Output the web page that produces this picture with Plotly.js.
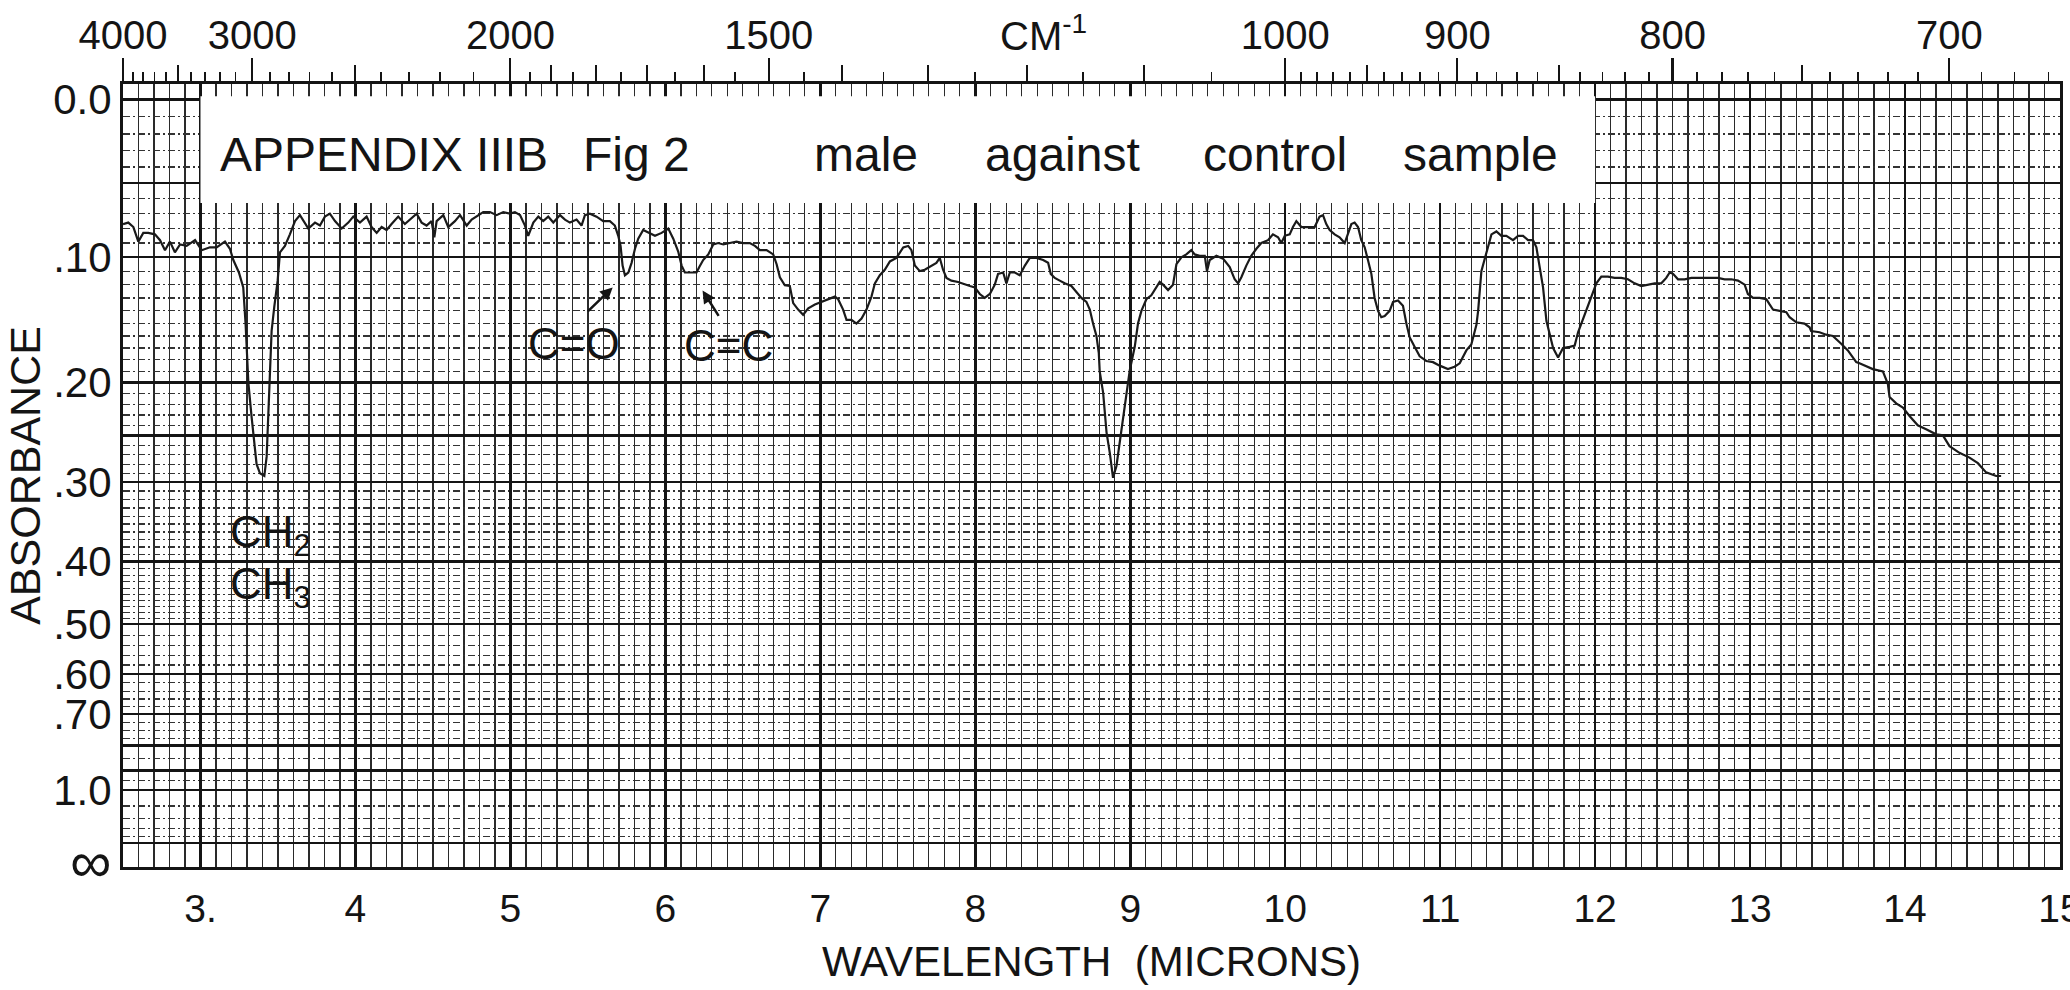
<!DOCTYPE html>
<html>
<head>
<meta charset="utf-8">
<script src="https://cdn.plot.ly/plotly-3.0.1.min.js"></script>
<style>
html,body{margin:0;padding:0;background:#fff;}
#chart{width:2070px;height:990px;}
</style>
</head>
<body>
<div id="chart"></div>
<script>
// ---- data: wavelength (microns) and absorbance ----
const wavelength = [
2.50,2.534,2.567,2.599,2.631,2.663,2.706,2.739,2.771,2.803,2.835,2.868,2.911,2.965,3.008,3.061,3.104,3.158,3.190,3.212,
3.248,3.276,3.291,3.309,3.330,3.362,3.384,3.412,3.427,3.442,3.459,3.476,3.498,3.513,3.545,3.577,3.610,3.642,3.674,3.696,
3.739,3.771,3.803,3.835,3.868,3.911,3.954,3.986,4.029,4.072,4.104,4.137,4.169,4.201,4.233,4.276,4.319,4.352,4.395,4.427,
4.459,4.491,4.509,4.524,4.567,4.599,4.642,4.675,4.718,4.750,4.782,4.825,4.868,4.911,4.954,4.997,5.029,5.062,5.094,5.115,
5.148,5.180,5.212,5.244,5.277,5.320,5.352,5.384,5.427,5.459,5.481,5.513,5.556,5.599,5.642,5.674,5.696,5.711,5.724,5.739,
5.761,5.782,5.804,5.825,5.857,5.900,5.933,5.976,6.019,6.051,6.083,6.105,6.126,6.169,6.201,6.219,6.244,6.277,6.309,6.341,
6.374,6.416,6.459,6.502,6.545,6.578,6.610,6.653,6.696,6.718,6.739,6.771,6.803,6.825,6.857,6.889,6.922,6.965,7.008,7.051,
7.094,7.115,7.147,7.169,7.201,7.233,7.266,7.298,7.330,7.352,7.384,7.416,7.449,7.491,7.535,7.567,7.588,7.610,7.642,7.674,
7.717,7.749,7.771,7.792,7.814,7.846,7.889,7.932,7.965,7.997,8.029,8.061,8.094,8.126,8.147,8.180,8.201,8.223,8.255,8.287,
8.320,8.352,8.395,8.438,8.470,8.487,8.513,8.545,8.577,8.620,8.653,8.685,8.717,8.739,8.760,8.782,8.797,8.803,8.825,8.847,
8.868,8.889,8.911,8.932,8.954,8.975,8.997,9.029,9.050,9.072,9.104,9.136,9.169,9.190,9.212,9.244,9.276,9.298,9.330,9.362,
9.394,9.416,9.448,9.481,9.495,9.513,9.556,9.599,9.642,9.674,9.696,9.717,9.749,9.781,9.814,9.846,9.889,9.921,9.954,9.975,
9.997,10.029,10.050,10.072,10.104,10.147,10.190,10.222,10.244,10.265,10.287,10.319,10.351,10.384,10.405,10.427,10.448,10.470,10.491,10.513,
10.534,10.556,10.577,10.599,10.620,10.642,10.674,10.696,10.728,10.760,10.782,10.803,10.835,10.868,10.911,10.954,10.997,11.050,11.093,11.126,
11.169,11.201,11.234,11.245,11.266,11.288,11.309,11.331,11.363,11.395,11.427,11.470,11.503,11.535,11.567,11.599,11.621,11.642,11.664,11.686,
11.707,11.729,11.761,11.793,11.836,11.868,11.890,11.922,11.954,11.986,12.008,12.040,12.083,12.126,12.169,12.212,12.255,12.298,12.341,12.384,
12.427,12.459,12.481,12.503,12.535,12.578,12.621,12.664,12.707,12.750,12.793,12.836,12.879,12.922,12.965,12.986,13.019,13.062,13.105,13.126,
13.148,13.191,13.234,13.255,13.298,13.351,13.384,13.394,13.448,13.491,13.534,13.588,13.631,13.685,13.706,13.792,13.857,13.889,13.900,13.943,
13.986,14.029,14.082,14.136,14.201,14.244,14.287,14.351,14.416,14.470,14.523,14.588,14.620
];
const absorbance = [
0.077,0.076,0.079,0.089,0.083,0.083,0.084,0.088,0.095,0.089,0.0965,0.091,0.092,0.088,0.095,0.093,0.093,0.089,0.094,0.102,
0.111,0.122,0.150,0.200,0.232,0.280,0.290,0.293,0.272,0.210,0.156,0.137,0.117,0.0965,0.092,0.084,0.075,0.071,0.076,0.080,
0.076,0.078,0.072,0.070,0.075,0.080,0.076,0.072,0.076,0.072,0.079,0.083,0.079,0.081,0.077,0.072,0.077,0.074,0.070,0.076,
0.078,0.075,0.086,0.075,0.071,0.079,0.075,0.071,0.078,0.074,0.072,0.069,0.069,0.071,0.069,0.070,0.069,0.071,0.078,0.085,
0.076,0.072,0.075,0.072,0.076,0.071,0.074,0.076,0.074,0.078,0.071,0.070,0.072,0.075,0.075,0.078,0.085,0.092,0.106,0.113,
0.111,0.104,0.094,0.087,0.081,0.083,0.085,0.083,0.080,0.087,0.096,0.106,0.111,0.111,0.111,0.107,0.102,0.098,0.091,0.090,
0.091,0.090,0.089,0.090,0.090,0.092,0.095,0.095,0.098,0.105,0.1145,0.1205,0.121,0.134,0.139,0.143,0.138,0.135,0.133,0.131,
0.129,0.131,0.139,0.147,0.147,0.150,0.146,0.139,0.129,0.119,0.113,0.109,0.103,0.1005,0.093,0.092,0.095,0.106,0.110,0.109,
0.106,0.104,0.1005,0.109,0.115,0.117,0.118,0.120,0.121,0.122,0.127,0.130,0.127,0.120,0.112,0.111,0.119,0.111,0.111,0.113,
0.106,0.1005,0.1005,0.102,0.104,0.112,0.115,0.117,0.119,0.121,0.126,0.130,0.133,0.139,0.150,0.160,0.174,0.190,0.209,0.247,
0.268,0.295,0.282,0.258,0.235,0.213,0.189,0.169,0.150,0.140,0.131,0.128,0.122,0.118,0.120,0.124,0.120,0.105,0.100,0.098,
0.095,0.098,0.099,0.099,0.110,0.102,0.099,0.101,0.107,0.116,0.119,0.1145,0.106,0.099,0.094,0.090,0.088,0.084,0.086,0.090,
0.085,0.084,0.079,0.075,0.079,0.079,0.079,0.072,0.071,0.077,0.081,0.084,0.086,0.090,0.084,0.077,0.076,0.079,0.088,0.093,
0.102,0.112,0.130,0.140,0.145,0.144,0.140,0.133,0.132,0.136,0.150,0.161,0.169,0.177,0.181,0.182,0.185,0.188,0.186,0.183,
0.172,0.167,0.151,0.140,0.110,0.1005,0.092,0.084,0.082,0.085,0.085,0.088,0.085,0.085,0.088,0.088,0.093,0.107,0.122,0.148,
0.158,0.170,0.178,0.170,0.169,0.168,0.157,0.146,0.136,0.125,0.119,0.114,0.114,0.115,0.115,0.116,0.119,0.121,0.120,0.119,
0.119,0.115,0.111,0.112,0.116,0.116,0.115,0.115,0.115,0.115,0.115,0.116,0.116,0.117,0.120,0.127,0.130,0.130,0.131,0.135,
0.139,0.140,0.141,0.145,0.149,0.150,0.153,0.156,0.157,0.159,0.160,0.1665,0.172,0.182,0.183,0.188,0.190,0.201,0.213,0.219,
0.223,0.231,0.240,0.244,0.249,0.250,0.261,0.268,0.273,0.279,0.289,0.293,0.293
];

// ---- tick labels ----
const micronTicks  = [3,4,5,6,7,8,9,10,11,12,13,14,15];
const micronLabels = ['3.','4','5','6','7','8','9','10','11','12','13','14','15'];
const absTicks  = [0, 0.10, 0.20, 0.30, 0.40, 0.50, 0.60, 0.70, 1.0, Infinity];
const absLabels = ['0.0','.10','.20','.30','.40','.50','.60','.70','1.0','<span style="font-size:58px">∞</span>'];
const wavenumberTicks  = [4000,3000,2000,1500,1000,900,800,700];
const wavenumberLabels = ['4000','3000','2000','1500','1000','900','800','700'];

// ---- chart-paper rulings (layout only) ----
const heavyAbs = [0.05, 0.25, 0.80, 0.90, 1.5];
const mediumWavenumbers = [3500,2500,1900,1800,1700,1600,1400,1300,1200,1100,950,850,750];

const toT = a => Math.pow(10, -a);          // absorbance -> transmittance (chart is linear in T)
const toMicron = w => 1e4 / w;

// minor vertical rulings every 0.1 micron
const minorX = [];
for (let i = 25; i <= 150; i++) { if (i % 10 !== 0) minorX.push(i / 10); }

// minor (dashed) horizontal rulings
const minorYabs = [];
for (let i = 1; i < 50; i++) { if (i % 10 !== 0 && i !== 5 && i !== 25) minorYabs.push(i / 100); }
for (let i = 52; i < 70; i += 2) { if (i !== 60) minorYabs.push(i / 100); }
[0.725, 0.75, 0.775, 0.85, 0.95, 1.1, 1.2, 1.3, 1.4].forEach(a => minorYabs.push(a));

// short ticks on wavenumber scale
const shortWavenumbers = [];
for (let w = 3900; w > 2000; w -= 100) { if (w !== 3000 && w !== 3500 && w !== 2500) shortWavenumbers.push(w); }
for (let w = 1950; w > 1000; w -= 100) { if (w !== 1500) shortWavenumbers.push(w); }
for (let w = 990; w >= 670; w -= 10) { if (w % 50 !== 0) shortWavenumbers.push(w); }

const INK = '#141414';
const SANS = '"Liberation Sans", Arial, sans-serif';

const spectrum = {
  x: wavelength,
  y: absorbance.map(toT),
  type: 'scatter', mode: 'lines',
  line: {color: '#1a1a1a', width: 2.2},
  xaxis: 'x', yaxis: 'y',
  showlegend: false, hoverinfo: 'skip'
};
const holder = ax => ({x: [null], y: [null], xaxis: ax[0], yaxis: ax[1], mode: 'lines', showlegend: false, hoverinfo: 'skip'});

const layout = {
  width: 2070, height: 990,
  margin: {l: 123, r: 10, t: 84, b: 123},
  paper_bgcolor: '#ffffff', plot_bgcolor: '#ffffff',
  showlegend: false,
  xaxis: {
    range: [2.5, 15], tickmode: 'array', tickvals: micronTicks, ticktext: micronLabels,
    ticks: '', ticklabelstandoff: 5, ticklabeloverflow: 'allow',
    tickfont: {family: SANS, size: 39, color: INK},
    showgrid: true, gridcolor: INK, gridwidth: 2.6,
    zeroline: false, showline: true, mirror: true, linecolor: INK, linewidth: 3,
    minor: {tickmode: 'array', tickvals: minorX, showgrid: true, gridcolor: '#2a2a2a', gridwidth: 1.3, ticks: ''},
    title: {text: 'WAVELENGTH  (MICRONS)', font: {family: SANS, size: 42, color: INK}, standoff: 18}
  },
  xaxis2: {
    overlaying: 'x', side: 'top', anchor: 'y', range: [2.5, 15],
    tickmode: 'array', tickvals: wavenumberTicks.map(toMicron), ticktext: wavenumberLabels,
    ticks: 'outside', ticklen: 12, tickwidth: 2.2, tickcolor: INK, ticklabelstandoff: 6,
    tickfont: {family: SANS, size: 40, color: INK},
    showgrid: false, zeroline: false, showline: false,
    minor: {tickmode: 'array', tickvals: shortWavenumbers.map(toMicron), ticks: 'outside', ticklen: 11, tickwidth: 1.8, tickcolor: INK, showgrid: false}
  },
  xaxis3: {
    overlaying: 'x', side: 'top', anchor: 'y', range: [2.5, 15],
    tickmode: 'array', tickvals: mediumWavenumbers.map(toMicron),
    ticks: 'outside', ticklen: 18, tickwidth: 2, tickcolor: INK,
    showticklabels: false, showgrid: false, zeroline: false, showline: false
  },
  xaxis4: {
    overlaying: 'x', side: 'top', anchor: 'y', range: [2.5, 15],
    tickmode: 'array', tickvals: wavenumberTicks.map(toMicron),
    ticks: 'outside', ticklen: 25, tickwidth: 2.2, tickcolor: INK,
    showticklabels: false, showgrid: false, zeroline: false, showline: false
  },
  yaxis: {
    range: [0, 1.02], tickmode: 'array', tickvals: absTicks.map(toT), ticktext: absLabels,
    ticks: '', ticklabelstandoff: 0,
    tickfont: {family: SANS, size: 42, color: INK},
    showgrid: true, gridcolor: INK, gridwidth: 2.4,
    zeroline: false, showline: true, mirror: true, linecolor: INK, linewidth: 3,
    minor: {tickmode: 'array', tickvals: minorYabs.map(toT), showgrid: true, gridcolor: '#333333', gridwidth: 1.2, griddash: '7px,3px,2px,3px', ticks: ''},
    title: {text: 'ABSORBANCE', font: {family: SANS, size: 43, color: INK}, standoff: 0}
  },
  yaxis2: {
    overlaying: 'y', anchor: 'x', side: 'left', range: [0, 1.02],
    tickmode: 'array', tickvals: heavyAbs.map(toT), showticklabels: false, ticks: '',
    showgrid: true, gridcolor: INK, gridwidth: 2.4, zeroline: false, showline: false
  },
  shapes: [
    {type: 'rect', xref: 'x', yref: 'y', x0: 3.0, x1: 12.0, y0: toT(0.063), y1: 1.004,
     fillcolor: '#ffffff', line: {width: 0}, layer: 'above'}
  ],
  annotations: [
    {text: 'CM<sup>-1</sup>', xref: 'x', yref: 'paper', x: 8.44, y: 1.065, showarrow: false,
     font: {family: SANS, size: 40, color: INK}, xanchor: 'center', yanchor: 'middle'},
    {text: 'APPENDIX IIIB', xref: 'x', yref: 'y', x: 3.11, y: 0.928, xanchor: 'left', yanchor: 'middle', showarrow: false, font: {family: SANS, size: 48, color: INK}},
    {text: 'Fig 2', xref: 'x', yref: 'y', x: 5.455, y: 0.928, xanchor: 'left', yanchor: 'middle', showarrow: false, font: {family: SANS, size: 48, color: INK}},
    {text: 'male', xref: 'x', yref: 'y', x: 6.945, y: 0.928, xanchor: 'left', yanchor: 'middle', showarrow: false, font: {family: SANS, size: 48, color: INK}},
    {text: 'against', xref: 'x', yref: 'y', x: 8.05, y: 0.928, xanchor: 'left', yanchor: 'middle', showarrow: false, font: {family: SANS, size: 48, color: INK}},
    {text: 'control', xref: 'x', yref: 'y', x: 9.455, y: 0.928, xanchor: 'left', yanchor: 'middle', showarrow: false, font: {family: SANS, size: 48, color: INK}},
    {text: 'sample', xref: 'x', yref: 'y', x: 10.75, y: 0.928, xanchor: 'left', yanchor: 'middle', showarrow: false, font: {family: SANS, size: 48, color: INK}},
    {text: 'C=O', xref: 'x', yref: 'y', x: 5.41, y: 0.682, xanchor: 'center', yanchor: 'middle', showarrow: false, font: {family: SANS, size: 44, color: INK}},
    {text: 'C=C', xref: 'x', yref: 'y', x: 6.41, y: 0.680, xanchor: 'center', yanchor: 'middle', showarrow: false, font: {family: SANS, size: 44, color: INK}},
    {text: '', xref: 'x', yref: 'y', x: 5.66, y: 0.755, axref: 'x', ayref: 'y', ax: 5.49, ay: 0.722,
     showarrow: true, arrowhead: 2, arrowsize: 1, arrowwidth: 2.5, arrowcolor: INK},
    {text: '', xref: 'x', yref: 'y', x: 6.24, y: 0.751, axref: 'x', ayref: 'y', ax: 6.35, ay: 0.716,
     showarrow: true, arrowhead: 2, arrowsize: 1, arrowwidth: 2.5, arrowcolor: INK},
    {text: 'CH<sub>2</sub>', xref: 'x', yref: 'y', x: 3.18, y: 0.432, xanchor: 'left', yanchor: 'middle', showarrow: false, font: {family: SANS, size: 44, color: INK}},
    {text: 'CH<sub>3</sub>', xref: 'x', yref: 'y', x: 3.18, y: 0.365, xanchor: 'left', yanchor: 'middle', showarrow: false, font: {family: SANS, size: 44, color: INK}}
  ]
};

Plotly.newPlot('chart', [spectrum, holder(['x2','y']), holder(['x3','y']), holder(['x4','y']), holder(['x','y2'])],
  layout, {displayModeBar: false, staticPlot: true});
</script>
</body>
</html>
